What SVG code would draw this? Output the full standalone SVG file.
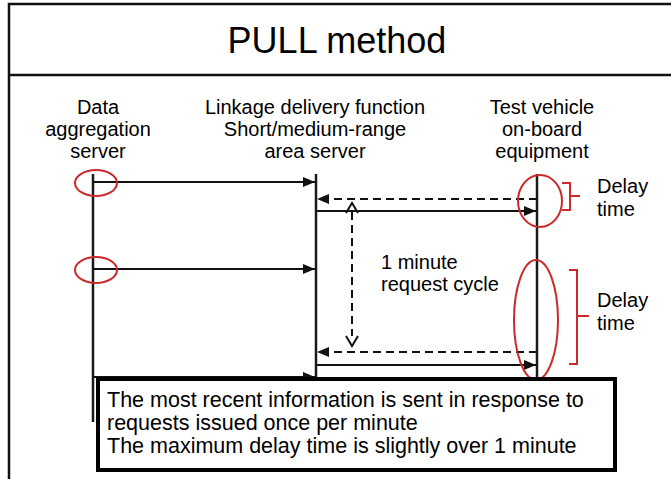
<svg xmlns="http://www.w3.org/2000/svg" width="671" height="479" viewBox="0 0 671 479">
<style>
text{font-family:"Liberation Sans",Arial,sans-serif;fill:#000;}
.lbl{font-size:20px;text-anchor:middle;}
.t{font-size:20px;}
.n{font-size:21.5px;}
.life{stroke:#1a1a1a;stroke-width:2.5;fill:none;}
.msg{stroke:#111;stroke-width:2;fill:none;}
.dash{stroke:#111;stroke-width:2;fill:none;stroke-dasharray:8 5;}
.red{stroke:#cc2a2a;stroke-width:2;fill:none;}
</style>
<defs>
<marker id="ah" viewBox="0 0 12 10" refX="12" refY="5" markerWidth="12" markerHeight="10" markerUnits="userSpaceOnUse" orient="auto">
<path d="M0,0 L12,5 L0,10 Z" fill="#111"/>
</marker>
</defs>
<rect width="671" height="479" fill="#fff"/>
<g id="frame">
<path d="M9,479 V4 H671" stroke="#111" stroke-width="2.5" fill="none"/>
<line x1="9" y1="75" x2="671" y2="75" stroke="#111" stroke-width="2.5"/>
</g>
<g id="title">
<text x="337" y="53" font-size="36" text-anchor="middle">PULL method</text>
</g>
<g id="data-server">
<text class="lbl" x="98" y="114">Data</text>
<text class="lbl" x="98" y="136">aggregation</text>
<text class="lbl" x="98" y="158">server</text>
<line class="life" x1="93" y1="174" x2="93" y2="422"/>
</g>
<g id="area-server">
<text class="lbl" x="315" y="114">Linkage delivery function</text>
<text class="lbl" x="315" y="136">Short/medium-range</text>
<text class="lbl" x="315" y="158">area server</text>
<line class="life" x1="316" y1="174" x2="316" y2="380"/>
</g>
<g id="vehicle">
<text class="lbl" x="542" y="114">Test vehicle</text>
<text class="lbl" x="542" y="136">on-board</text>
<text class="lbl" x="542" y="158">equipment</text>
<line class="life" x1="537" y1="174" x2="537" y2="380"/>
</g>
<g id="connectors">
<line class="msg" x1="93" y1="182" x2="315" y2="182" marker-end="url(#ah)"/>
<line class="dash" x1="537" y1="199" x2="317" y2="199" marker-end="url(#ah)"/>
<line class="msg" x1="316" y1="211" x2="536" y2="211" marker-end="url(#ah)"/>
<line class="msg" x1="93" y1="269" x2="315" y2="269" marker-end="url(#ah)"/>
<line class="dash" x1="537" y1="352" x2="317" y2="352" marker-end="url(#ah)"/>
<line class="msg" x1="316" y1="365" x2="536" y2="365" marker-end="url(#ah)"/>
<line class="msg" x1="93" y1="377" x2="315" y2="377" marker-end="url(#ah)"/>
<line class="dash" x1="352" y1="212" x2="352" y2="336"/>
<path d="M346,213 L352,203 L358,213" fill="none" stroke="#111" stroke-width="2"/>
<path d="M346,336 L352,346 L358,336" fill="none" stroke="#111" stroke-width="2"/>
</g>
<g id="cycle-label">
<text class="t" x="381" y="269">1 minute</text>
<text class="t" x="381" y="291">request cycle</text>
</g>
<g id="highlights">
<ellipse class="red" cx="96" cy="183" rx="21" ry="13"/>
<ellipse class="red" cx="96" cy="270" rx="21" ry="13"/>
<ellipse class="red" cx="540" cy="201" rx="22" ry="26"/>
<ellipse class="red" cx="536" cy="320" rx="22" ry="60"/>
</g>
<g id="delay-1">
<path class="red" d="M562,183 H570 V210 H562 M570,196 H580"/>
<text class="t" x="597" y="193">Delay</text>
<text class="t" x="597" y="216">time</text>
</g>
<g id="delay-2">
<path class="red" d="M569,270 H577 V364 H569 M577,316 H589"/>
<text class="t" x="597" y="307">Delay</text>
<text class="t" x="597" y="330">time</text>
</g>
<g id="note">
<rect x="98" y="379" width="517" height="91" fill="#fff" stroke="#000" stroke-width="4"/>
<text class="n" x="107" y="407">The most recent information is sent in response to</text>
<text class="n" x="107" y="430">requests issued once per minute</text>
<text class="n" x="107" y="453">The maximum delay time is slightly over 1 minute</text>
</g>
</svg>
